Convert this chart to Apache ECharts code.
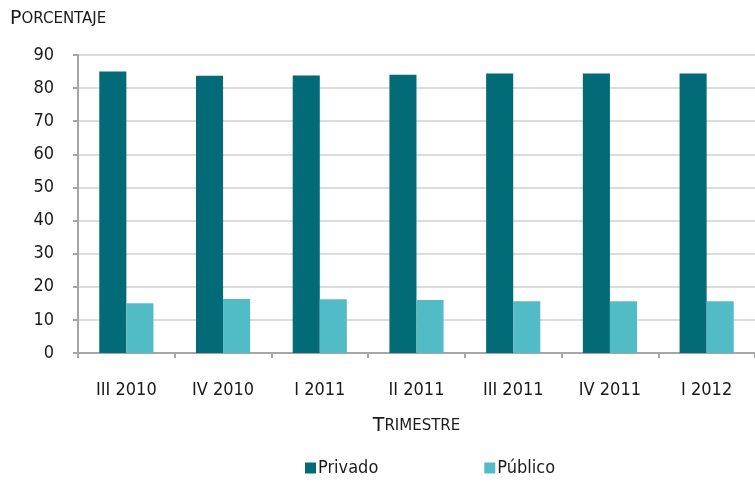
<!DOCTYPE html>
<html><head><meta charset="utf-8">
<script src="https://cdn.jsdelivr.net/npm/echarts@6/dist/echarts.min.js"></script>
<style>html,body{margin:0;padding:0;background:#fff}#c{width:755px;height:483px}</style>
</head><body><div id="c"></div>
<script>
const categories = ['III 2010','IV 2010','I 2011','II 2011','III 2011','IV 2011','I 2012'];
const privado = [85.0, 83.7, 83.8, 84.0, 84.4, 84.4, 84.4];
const publico = [15.0, 16.3, 16.2, 16.0, 15.6, 15.6, 15.6];
const yTicks = [0,10,20,30,40,50,60,70,80,90];
const FONT = '"DejaVu Sans Condensed","DejaVu Sans","Liberation Sans Narrow",sans-serif';
const WIDE = '"DejaVu Sans",sans-serif';
const chart = echarts.init(document.getElementById('c'));
const capRich = {a:{fontSize:19,fontFamily:WIDE,color:'#1a1a1a',fontWeight:'normal'},b:{fontSize:15,fontFamily:WIDE,color:'#1a1a1a',fontWeight:'normal'}};
chart.setOption({
  animation:false,
  textStyle:{fontFamily:FONT,color:'#1a1a1a'},
  title:{text:'{a|P}{b|ORCENTAJE}',left:5,top:5,textStyle:{fontWeight:'normal',rich:capRich}},
  grid:{left:78,top:55,right:-7,bottom:130,containLabel:false},
  legend:{bottom:1,left:300,itemWidth:11,itemHeight:11,itemGap:106,icon:'rect',
    textStyle:{fontSize:18,fontFamily:FONT,color:'#1a1a1a',padding:[4,0,0,-3]},
    data:['Privado','Público']},
  xAxis:{type:'category',data:categories,
    axisLine:{lineStyle:{color:'#a6a6a6',width:2}},
    axisTick:{show:true,alignWithLabel:false,length:5,lineStyle:{color:'#a6a6a6',width:2}},
    axisLabel:{fontSize:18,fontFamily:FONT,color:'#1a1a1a',margin:28},
    name:'{a|T}{b|RIMESTRE}',nameLocation:'middle',nameGap:64,
    nameTextStyle:{fontWeight:'normal',rich:capRich}
  },
  yAxis:{type:'value',min:0,max:90,interval:10,
    axisLine:{show:true,lineStyle:{color:'#a6a6a6',width:2}},
    axisTick:{show:true,length:5,lineStyle:{color:'#a6a6a6',width:2}},
    axisLabel:{fontSize:18,fontFamily:FONT,color:'#1a1a1a',margin:24,
      formatter:v=>yTicks.includes(v)?String(v):''},
    splitLine:{lineStyle:{color:'#dcdcdc',width:2}}
  },
  series:[
    {name:'Privado',type:'bar',data:privado,barWidth:'28%',barGap:'0%',itemStyle:{color:'#026b77'}},
    {name:'Público',type:'bar',data:publico,barWidth:'28%',barGap:'0%',itemStyle:{color:'#52bcc6'}}
  ]
});
</script></body></html>
